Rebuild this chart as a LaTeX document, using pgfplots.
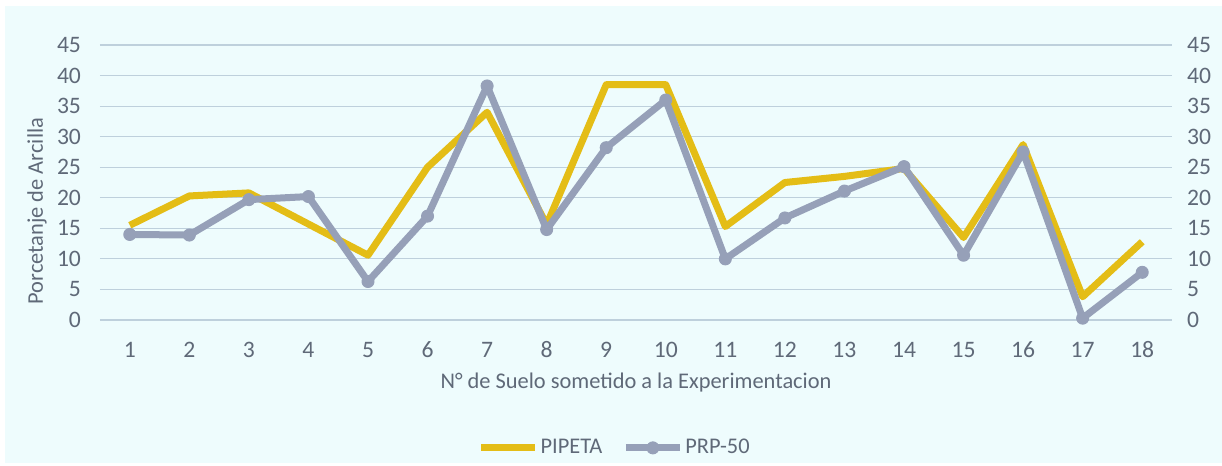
\documentclass[border=0pt]{standalone}
\usepackage{pgfplots}
\pgfplotsset{compat=1.18}
\usepackage{fontspec}
\setmainfont{Carlito}
\definecolor{bgc}{RGB}{238,252,253}
\definecolor{gridc}{RGB}{190,208,220}
\definecolor{txtc}{RGB}{95,105,120}
\definecolor{yelc}{RGB}{228,189,22}
\definecolor{gryc}{RGB}{150,160,184}
\begin{document}
\begin{tikzpicture}
\fill[white] (0,0) rectangle (611pt,233pt);
\fill[bgc] (2.5pt,1.5pt) rectangle (611pt,230pt);
\pgfplotsset{
  base/.style={
    at={(50pt,73pt)}, anchor=south west,
    width=536pt, height=137.5pt, scale only axis,
    xmin=0.5, xmax=18.5, ymin=0, ymax=45,
    ytick={0,5,...,45},
    axis line style={draw=none},
    major tick length=0pt,
    /pgf/number format/assume math mode=true,
    tick label style={font=\fontsize{11.8}{13}\selectfont, text=txtc},
  }
}
\begin{axis}[base,
  xtick={1,...,18},
  ymajorgrids, grid style={gridc, line width=0.6pt},
  xticklabel style={anchor=center, yshift=-15pt},
  yticklabel style={anchor=east, xshift=-6pt},
  xlabel={N° de Suelo sometido a la Experimentacion},
  ylabel={Porcetanje de Arcilla},
  label style={font=\fontsize{11.2}{13}\selectfont, text=txtc},
  xlabel style={at={(axis description cs:0.5,-0.229)}, anchor=center},
  ylabel style={at={(axis description cs:-0.0588,0.396)}, anchor=center},
  legend style={at={(axis description cs:0.48,-0.465)}, anchor=center,
    draw=none, fill=none, legend columns=2,
    font=\fontsize{11.2}{13}\selectfont, text=txtc,
    nodes={inner xsep=1pt},
    /tikz/every even column/.append style={column sep=9pt},
    legend cell align=left},
  legend image code/.code={\draw[mark repeat=2,mark phase=2,#1] plot coordinates {(0pt,0pt) (13.5pt,0pt) (27pt,0pt)};},
]
\addplot[color=yelc, line width=3.5pt, line join=round] coordinates {
(1,15.5) (2,20.3) (3,20.8) (4,15.7) (5,10.6) (6,25.0) (7,34.0) (8,15.6) (9,38.5)
(10,38.5) (11,15.3) (12,22.5) (13,23.5) (14,24.8) (15,13.5) (16,28.7) (17,3.8) (18,12.8)};
\addlegendentry{PIPETA}
\addplot[color=gryc, line width=3.5pt, line join=round, mark=*, mark size=3pt, mark options={fill=gryc, line width=0.5pt}] coordinates {
(1,14.0) (2,13.9) (3,19.7) (4,20.2) (5,6.3) (6,17.0) (7,38.3) (8,14.8) (9,28.2)
(10,36.0) (11,10.0) (12,16.7) (13,21.1) (14,25.1) (15,10.6) (16,27.5) (17,0.3) (18,7.8)};
\addlegendentry{PRP-50}
\end{axis}
\begin{axis}[base,
  hide x axis,
  yticklabel pos=right,
  yticklabel style={anchor=west, xshift=4pt},
]
\end{axis}
\end{tikzpicture}
\end{document}
